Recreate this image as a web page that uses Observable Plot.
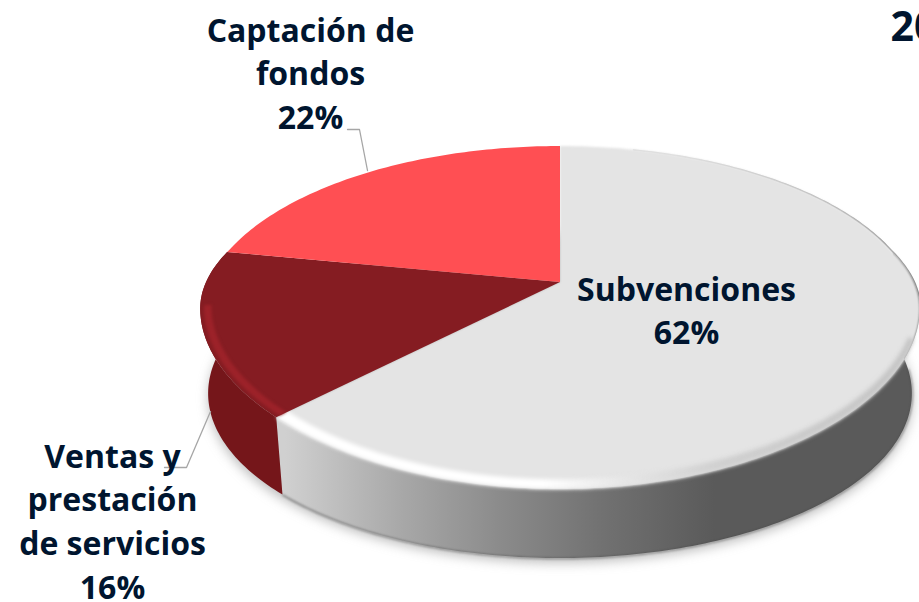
<!DOCTYPE html>
<html><head><meta charset="utf-8">
<script src="https://cdn.jsdelivr.net/npm/d3@7"></script>
<script src="https://cdn.jsdelivr.net/npm/@observablehq/plot@0.6"></script>
<style>html,body{margin:0;padding:0;background:#fff;overflow:hidden}svg{display:block}</style>
</head><body><div id="chart"></div>
<script>
// data
const categories = ["Subvenciones", "Ventas y prestación de servicios", "Captación de fondos"];
const shares = [62, 16, 22];
const labelLines = [["Subvenciones", "62%"], ["Ventas y", "prestación", "de servicios", "16%"], ["Captación de", "fondos", "22%"]];
const yearText = "20";

// styles and layout
const topColors = ["#e4e4e4", "#851c22", "#ff4f53"];
const wallColors = ["url(#wallGrey)", "#75161a", "#75161a"];
const ink = "#00152f";
const fontSize = 32, lineH = 43.7;
const labelAt = [[686, 290], [112, 457], [310, 31]];
const leaders = [
  [[210, 411], [186, 467], [164, 467]],
  [[367, 170], [359, 129], [347, 129]]
];

// perspective disc: apex (cx, ay), top rim y0, bottom rim y1
const cx = 560, ay = 282, y0 = 146, y1 = 489, halfW = 352, midY = 318, lift = 9;
const k = (ay * 2 - y0 - y1) / (y1 - y0);   // homography denominator slope
const a = y1 * (1 + k) - ay;
function base(pct, r = 1) {
  const th = pct / 100 * 2 * Math.PI, u = r * Math.sin(th), v = -r * Math.cos(th), d = 1 + k * v;
  return {x: cx + halfW * u / d, y: (a * v + ay) / d};
}
// the front edge of the lens sits a little higher at the sides than a true ellipse
function rim(pct, r = 1) {
  const q = base(pct, r), vn = (q.y - midY) / (y1 - midY);
  const w = Math.min(1, Math.max(0, (vn + 0.4) / 0.4));
  return {x: q.x, y: q.y - lift * w * Math.max(0, 1 - vn * vn)};
}
const wallBottom = 558, wallSquash = 0.96, wallScale = 0.978;
function lower(pct) {
  const q = base(pct);
  return {x: cx + (q.x - cx) * wallScale, y: wallBottom - (y1 - q.y) * wallSquash};
}
let acc = 0;
const ranges = shares.map((s, i) => { const r = {i, from: acc, to: acc + s}; acc += s; return r; });
const steps = (f, t) => d3.range(f, t, 0.25).concat([t]);

const wedges = ranges.flatMap(({i, from, to}) => steps(from, to).map(p => {
  const q = rim(p); return {i, x1: cx, y1: ay, x2: q.x, y2: q.y};
}));
// visible front wall between the two side extremes
const wallPts = ranges.flatMap(({i, from, to}) => {
  const f = Math.max(from, 22), t = Math.min(to, 78);
  if (f >= t) return [];
  return steps(f, t).map(p => {
    const q = rim(p), b = lower(p);
    return {i, x1: q.x, y1: q.y, x2: b.x, y2: b.y};
  });
});
// soft highlight along the front of the grey slice
const greyBevel = steps(31, 62).map(p => {
  const q = rim(p), b = rim(p, 0.966 + 0.018 * Math.max(0, (45 - p) / 14));
  return {x1: q.x, y1: q.y, x2: b.x, y2: b.y};
});
// thin highlight just inside the rim of the dark slice
const redBevel = steps(62, 72).map(p => {
  const q = rim(p, 0.99), b = rim(p, 0.97);
  return {x1: q.x, y1: q.y, x2: b.x, y2: b.y};
});
const shadowPts = steps(0, 100).map(p => { const b = lower(p); return {x: b.x, y: b.y + 4}; });
const footPts = steps(26, 62).map(p => lower(p));
const backEdge = steps(4, 28).map(p => rim(p));

const textRows = labelLines.flatMap((ls, i) => ls.map((t, j) => ({t, x: labelAt[i][0], y: labelAt[i][1] + j * lineH})));
const leaderRows = leaders.flatMap((l, i) => l.map(([x, y]) => ({i, x, y})));

const defs = () => {
  const s = d3.create("svg:defs");
  const grad = (id, x1, x2, stops) => {
    const g = s.append("linearGradient").attr("id", id).attr("gradientUnits", "userSpaceOnUse")
      .attr("x1", x1).attr("x2", x2).attr("y1", 0).attr("y2", 0);
    stops.forEach(([o, co]) => g.append("stop").attr("offset", o).attr("stop-color", co));
  };
  grad("wallGrey", 285, 715, [[0, "#d0d0d0"], [0.27, "#a8a8a8"], [0.5, "#8b8b8b"], [0.74, "#717171"], [1, "#5a5a5a"]]);
  grad("bevelGrey", 285, 900, [[0, "#ffffff"], [0.42, "#ffffff"], [0.55, "#e6e6e6"], [0.7, "#d0d0d0"], [1, "#c4c4c4"]]);
  grad("edgeGrey", 680, 917, [[0, "#d8d8d8"], [0.6, "#a0a0a0"], [1, "#6a6a6a"]]);
  return s.node();
};

const plot = Plot.plot({
  width: 919, height: 602, margin: 0,
  x: {domain: [0, 919], range: [0, 919], axis: null},
  y: {domain: [0, 602], range: [0, 602], axis: null},
  style: {background: "#fff", fontFamily: "'Open Sans', sans-serif"},
  marks: [
    defs,
    Plot.line(shadowPts, {x: "x", y: "y", fill: "#777", stroke: "none", fillOpacity: 0.5, imageFilter: "blur(6px)"}),
    Plot.area(wallPts, {x1: "x1", y1: "y1", x2: "x2", y2: "y2", z: "i", fill: d => wallColors[d.i], imageFilter: "blur(0.5px)"}),
    Plot.line(footPts, {x: "x", y: "y", stroke: "#444", strokeWidth: 1.6, strokeOpacity: 0.55, imageFilter: "blur(0.8px)"}),
    Plot.line(backEdge, {x: "x", y: "y", stroke: "url(#edgeGrey)", strokeWidth: 1.6, imageFilter: "blur(0.6px)"}),
    Plot.area(wedges.filter(d => d.i === 0), {x1: "x1", y1: "y1", x2: "x2", y2: "y2", z: "i", fill: d => topColors[d.i], imageFilter: "blur(0.8px)"}),
    Plot.area(greyBevel, {x1: "x1", y1: "y1", x2: "x2", y2: "y2", fill: "url(#bevelGrey)", imageFilter: "blur(2px)"}),
    Plot.area(wedges.filter(d => d.i !== 0), {x1: "x1", y1: "y1", x2: "x2", y2: "y2", z: "i", fill: d => topColors[d.i], imageFilter: "blur(0.5px)"}),
    Plot.area(redBevel, {x1: "x1", y1: "y1", x2: "x2", y2: "y2", fill: "#9c2229", imageFilter: "blur(1.4px)"}),
    Plot.line(leaderRows, {x: "x", y: "y", z: "i", stroke: "#a6a6a6", strokeWidth: 1.3}),
    Plot.text(textRows, {x: "x", y: "y", text: "t", fill: ink, fontSize, fontWeight: 700, textAnchor: "middle", lineAnchor: "middle"}),
    Plot.text([yearText], {x: () => 890, y: () => 27, text: d => d, fill: ink, fontSize: 41, fontWeight: 700, textAnchor: "start", lineAnchor: "middle"})
  ]
});
document.getElementById("chart").append(plot);
</script></body></html>
